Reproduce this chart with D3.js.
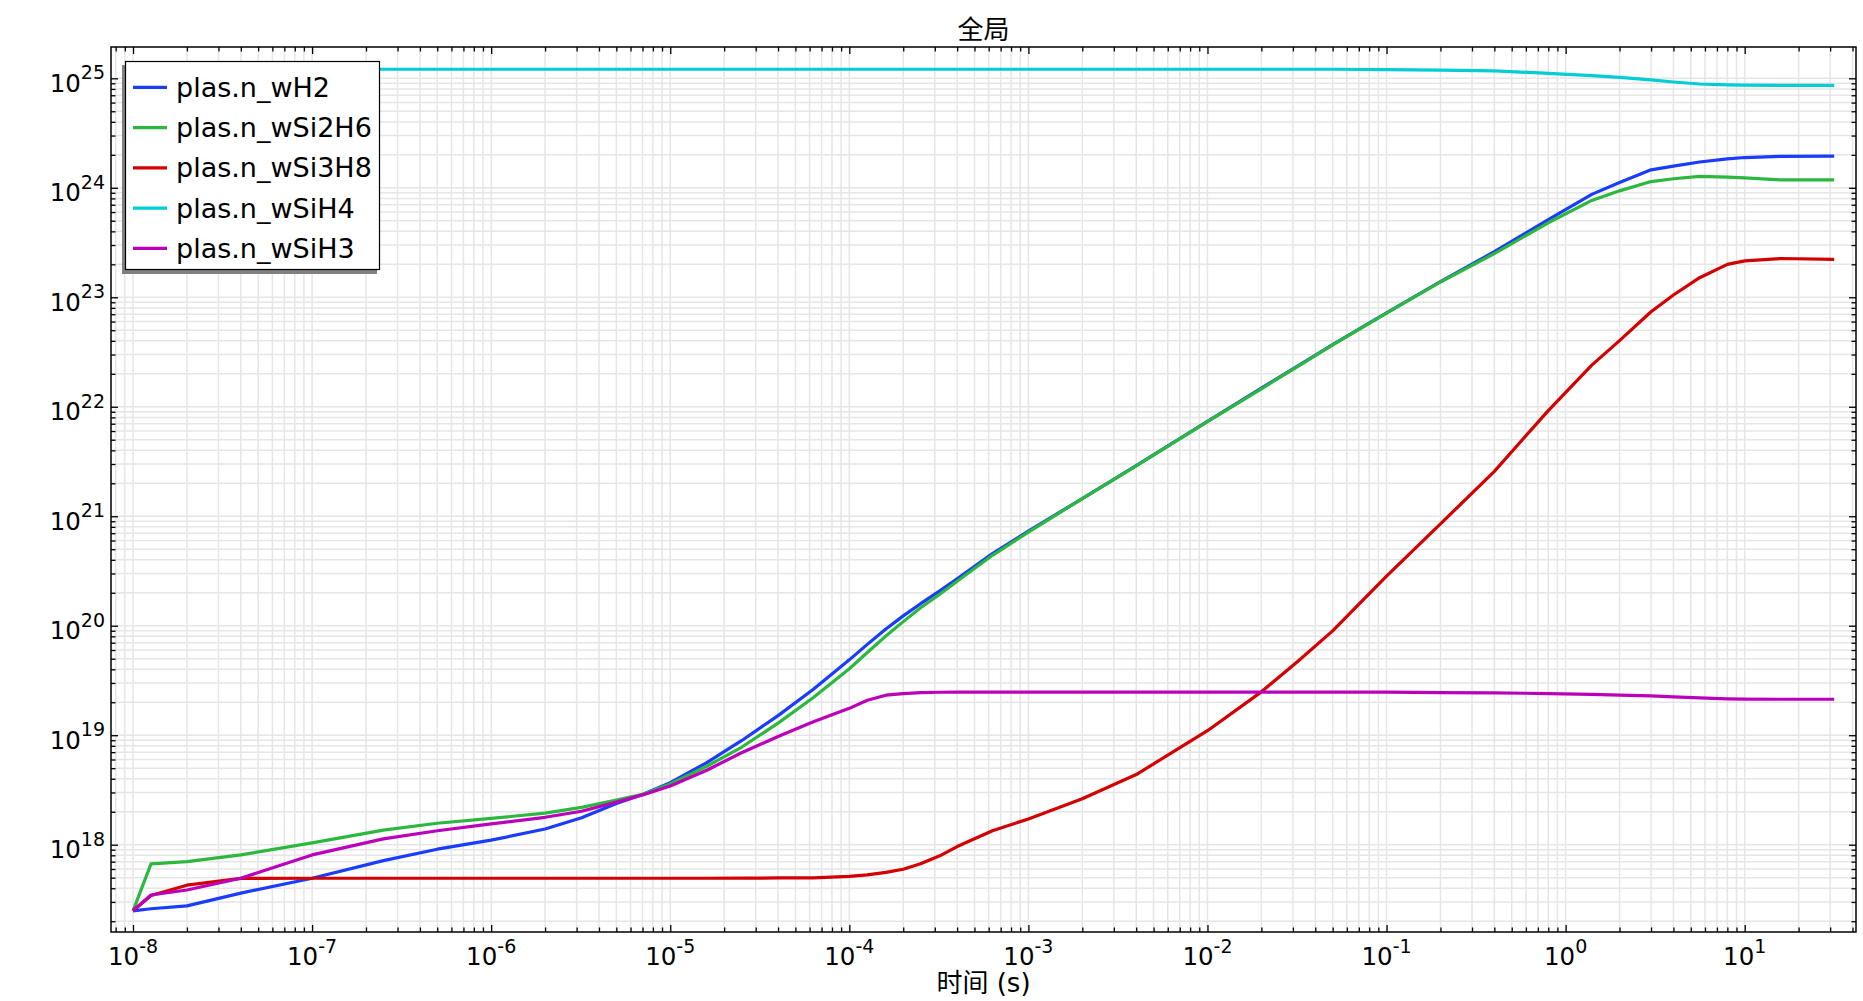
<!DOCTYPE html>
<html><head><meta charset="utf-8">
<script src="https://cdn.jsdelivr.net/npm/d3@7"></script>
<style>
body{margin:0;background:#fff}
svg{display:block}
text{font-family:"DejaVu Sans","Noto Sans CJK SC",sans-serif;fill:#000}
</style>
</head><body>
<svg id="c" width="1863" height="1001"></svg>
<script>
// ---------- data ----------
const times = [1e-8, 1.26e-8, 2e-8, 4e-8, 1e-7, 2.5e-7, 5e-7, 1e-6, 2e-6, 3.2e-6, 5e-6, 7e-6, 1e-5, 1.6e-5, 2.5e-5, 4e-5, 6.3e-5, 1e-4, 1.26e-4, 1.6e-4, 2e-4, 2.5e-4, 3.2e-4, 4e-4, 6.3e-4, 1e-3, 2e-3, 4e-3, 1e-2, 2e-2, 3.2e-2, 5e-2, 0.1, 0.2, 0.4, 0.8, 1.4, 2, 3, 4, 5.6, 8, 10, 16, 31.6];

const nH2 = [2.49e17, 2.60e17, 2.76e17, 3.61e17, 4.94e17, 7.16e17, 9.10e17, 1.10e18, 1.39e18, 1.76e18, 2.38e18, 2.88e18, 3.69e18, 5.62e18, 8.91e18, 1.51e19, 2.63e19, 4.88e19, 6.76e19, 9.33e19, 1.23e20, 1.59e20, 2.08e20, 2.69e20, 4.57e20, 7.33e20, 1.45e21, 2.90e21, 7.36e21, 1.48e22, 2.36e22, 3.69e22, 7.21e22, 1.39e23, 2.61e23, 5.13e23, 8.71e23, 1.12e24, 1.46e24, 1.58e24, 1.72e24, 1.84e24, 1.89e24, 1.94e24, 1.95e24];

const nSi2H6 = [2.49e17, 6.68e17, 7.01e17, 8.07e17, 1.04e18, 1.36e18, 1.57e18, 1.74e18, 1.94e18, 2.19e18, 2.56e18, 2.88e18, 3.59e18, 5.21e18, 7.76e18, 1.29e19, 2.21e19, 4.05e19, 5.70e19, 8.05e19, 1.09e20, 1.46e20, 1.94e20, 2.55e20, 4.40e20, 7.16e20, 1.45e21, 2.88e21, 7.33e21, 1.46e22, 2.34e22, 3.67e22, 7.16e22, 1.38e23, 2.51e23, 4.79e23, 7.67e23, 9.38e23, 1.14e24, 1.21e24, 1.27e24, 1.25e24, 1.23e24, 1.18e24, 1.18e24];

const nSi3H8 = [2.49e17, 3.43e17, 4.27e17, 4.92e17, 4.94e17, 4.94e17, 4.94e17, 4.94e17, 4.94e17, 4.94e17, 4.94e17, 4.94e17, 4.94e17, 4.94e17, 4.95e17, 4.97e17, 4.98e17, 5.13e17, 5.30e17, 5.58e17, 5.97e17, 6.71e17, 7.91e17, 9.62e17, 1.34e18, 1.72e18, 2.63e18, 4.37e18, 1.10e19, 2.49e19, 4.74e19, 8.98e19, 2.84e20, 8.51e20, 2.57e21, 9.23e21, 2.40e22, 4.02e22, 7.38e22, 1.05e23, 1.51e23, 2.00e23, 2.15e23, 2.26e23, 2.22e23];

const nSiH4 = [1.21e25, 1.21e25, 1.21e25, 1.21e25, 1.21e25, 1.21e25, 1.21e25, 1.21e25, 1.21e25, 1.21e25, 1.21e25, 1.21e25, 1.21e25, 1.21e25, 1.21e25, 1.21e25, 1.21e25, 1.21e25, 1.21e25, 1.21e25, 1.21e25, 1.21e25, 1.21e25, 1.21e25, 1.21e25, 1.21e25, 1.21e25, 1.21e25, 1.21e25, 1.21e25, 1.21e25, 1.21e25, 1.20e25, 1.19e25, 1.17e25, 1.11e25, 1.06e25, 1.02e25, 9.66e24, 9.25e24, 8.87e24, 8.71e24, 8.67e24, 8.63e24, 8.63e24];

const nSiH3 = [2.49e17, 3.47e17, 3.86e17, 4.94e17, 8.07e17, 1.13e18, 1.34e18, 1.55e18, 1.78e18, 2.02e18, 2.45e18, 2.85e18, 3.44e18, 4.79e18, 6.92e18, 9.72e18, 1.33e19, 1.76e19, 2.09e19, 2.32e19, 2.40e19, 2.45e19, 2.47e19, 2.48e19, 2.48e19, 2.48e19, 2.48e19, 2.48e19, 2.48e19, 2.48e19, 2.48e19, 2.48e19, 2.48e19, 2.45e19, 2.44e19, 2.40e19, 2.36e19, 2.32e19, 2.29e19, 2.24e19, 2.19e19, 2.15e19, 2.14e19, 2.13e19, 2.13e19];

const seriesNames = ["plas.n_wH2", "plas.n_wSi2H6", "plas.n_wSi3H8", "plas.n_wSiH4", "plas.n_wSiH3"];
const seriesValues = [nH2, nSi2H6, nSi3H8, nSiH4, nSiH3];
const seriesColors = ["#1a3cff", "#2cb83e", "#d40000", "#00cdd4", "#bb00bb"];

const xLabelExponents = [-8, -7, -6, -5, -4, -3, -2, -1, 0, 1];
const yLabelExponents = [18, 19, 20, 21, 22, 23, 24, 25];
const titleText = "全局";
const xAxisTitle = "时间 (s)";

// ---------- layout ----------
const L = 111, R = 1856, T = 47, B = 932;
const svg = d3.select("#c");

const x = d3.scaleLog().domain([Math.pow(10, -8.123), Math.pow(10, 1.6215)]).range([L, R]);
const y = d3.scaleLog().domain([Math.pow(10, 17.2027), Math.pow(10, 25.286)]).range([B, T]);

function logTicks(scale) {
  const [a, b] = scale.domain();
  const major = [], minor = [];
  for (let e = Math.floor(Math.log10(a)); e <= Math.ceil(Math.log10(b)); e++) {
    for (let m = 1; m <= 9; m++) {
      const v = m * Math.pow(10, e);
      if (v >= a && v <= b) (m === 1 ? major : minor).push(v);
    }
  }
  return {major, minor};
}
const xt = logTicks(x), yt = logTicks(y);

// grid
const grid = svg.append("g").attr("stroke", "#e6e6e6").attr("stroke-width", 1.5);
grid.selectAll(".gx").data(xt.major.concat(xt.minor)).join("line")
  .attr("x1", d => x(d)).attr("x2", d => x(d)).attr("y1", T).attr("y2", B);
grid.selectAll(".gy").data(yt.major.concat(yt.minor)).join("line")
  .attr("y1", d => y(d)).attr("y2", d => y(d)).attr("x1", L).attr("x2", R);

// series
svg.append("clipPath").attr("id", "clip").append("rect")
  .attr("x", L).attr("y", T).attr("width", R - L).attr("height", B - T);
const line = d3.line().x(d => x(d[0])).y(d => y(d[1]));
const sg = svg.append("g").attr("clip-path", "url(#clip)");
seriesValues.forEach((vals, i) => {
  sg.append("path")
    .datum(times.map((t, k) => [t, vals[k]]))
    .attr("d", line)
    .attr("fill", "none")
    .attr("stroke", seriesColors[i])
    .attr("stroke-width", 3.2)
    .attr("stroke-linejoin", "round");
});

// axis ticks (inward, all four sides)
function ticks(axisFn, scale, vals, size, tr) {
  const g = svg.append("g").attr("transform", tr)
    .call(axisFn(scale).tickValues(vals).tickSize(size).tickSizeOuter(0).tickFormat(""));
  g.select(".domain").remove();
  g.selectAll(".tick line").attr("stroke", "#000").attr("stroke-width", 1.3);
}
ticks(d3.axisBottom, x, xt.major, -7, `translate(0,${B})`);
ticks(d3.axisBottom, x, xt.minor, -4.5, `translate(0,${B})`);
ticks(d3.axisTop, x, xt.major, -7, `translate(0,${T})`);
ticks(d3.axisTop, x, xt.minor, -4.5, `translate(0,${T})`);
ticks(d3.axisLeft, y, yt.major, -7, `translate(${L},0)`);
ticks(d3.axisLeft, y, yt.minor, -4.5, `translate(${L},0)`);
ticks(d3.axisRight, y, yt.major, -7, `translate(${R},0)`);
ticks(d3.axisRight, y, yt.minor, -4.5, `translate(${R},0)`);

// frame
svg.append("rect").attr("x", L).attr("y", T).attr("width", R - L).attr("height", B - T)
  .attr("fill", "none").attr("stroke", "#000").attr("stroke-width", 1.5);

// tick labels
function powLabel(sel, e) {
  sel.append("tspan").text("10");
  sel.append("tspan").attr("dy", -12.5).attr("font-size", 19).text(String(e));
}
xLabelExponents.forEach(e => {
  const t = svg.append("text").attr("x", x(Math.pow(10, e))).attr("y", 965)
    .attr("text-anchor", "middle").attr("font-size", 24.5);
  powLabel(t, e);
});
yLabelExponents.forEach(e => {
  const t = svg.append("text").attr("x", 105).attr("y", y(Math.pow(10, e)) + 13.6)
    .attr("text-anchor", "end").attr("font-size", 24.5);
  powLabel(t, e);
});

// titles
svg.append("text").attr("x", (L + R) / 2).attr("y", 39).attr("text-anchor", "middle")
  .attr("font-size", 26).text(titleText);
svg.append("text").attr("x", (L + R) / 2).attr("y", 992).attr("text-anchor", "middle")
  .attr("font-size", 26).text(xAxisTitle);

// legend
const lg = svg.append("g");
lg.append("rect").attr("x", 122).attr("y", 65).attr("width", 255).attr("height", 209).attr("fill", "#808080");
lg.append("rect").attr("x", 125.5).attr("y", 61.5).attr("width", 254).attr("height", 208)
  .attr("fill", "#fff").attr("stroke", "#000").attr("stroke-width", 1.2);
seriesNames.forEach((name, i) => {
  const cy = 87.3 + i * 40.25;
  lg.append("line").attr("x1", 133).attr("x2", 167).attr("y1", cy).attr("y2", cy)
    .attr("stroke", seriesColors[i]).attr("stroke-width", 3.2);
  lg.append("text").attr("x", 176).attr("y", cy + 9.5).attr("font-size", 27).text(name);
});
</script>
</body></html>
